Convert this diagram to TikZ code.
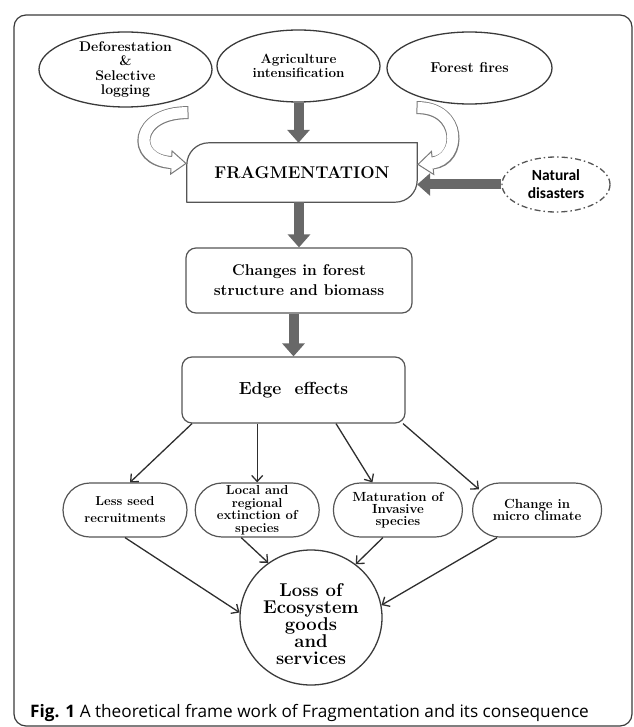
\documentclass[tikz,border=0pt]{standalone}
\usepackage{fontspec}
\newfontfamily\capfont{Open Sans}
\newfontfamily\natfont{Carlito}
\usetikzlibrary{positioning,shapes.geometric,calc,arrows.meta}
\definecolor{ovalgray}{HTML}{3A3A3A}
\definecolor{boxgray}{HTML}{555555}
\definecolor{arrowgray}{HTML}{686868}
\definecolor{hollowgray}{HTML}{7A7A7A}
\definecolor{linegray}{HTML}{2E2E2E}

\begin{document}
\begin{tikzpicture}
    [
    x=1pt, y=-1pt,
    basic/.style={draw=boxgray, line width=1.2pt},
    oval/.style={draw=ovalgray, line width=1.3pt, ellipse, inner sep=0pt},
    ovaltext/.style={font=\bfseries\fontsize{14}{14.5}\selectfont, align=center, inner sep=0pt},
    rect/.style={basic, rounded corners=10pt, align=center, inner sep=0pt},
    pill/.style={basic, rounded corners=27pt, minimum height=54pt, inner sep=0pt, align=center,
        font=\bfseries\fontsize{13}{12.5}\selectfont},
    bigarrow/.style={line width=10pt, draw=arrowgray, -{Triangle[width=22pt,length=13pt]}},
    hollow/.style={line width=13pt, draw=hollowgray, -{Triangle[width=25pt,length=16pt,line width=1pt,fill=white]}},
    hollowin/.style={line width=11pt, draw=white, shorten <=1pt, shorten >=14pt},
    thin/.style={line width=1.3pt, draw=linegray, ->},
    >={Straight Barb[length=6pt,width=11pt]}
    ]
    \useasboundingbox (0,0) rectangle (633,727);
    % Marco
    \draw[line width=1.2pt, draw=ovalgray, rounded corners=12pt] (14,15) rectangle (632,726);

    % Causas
    \node [oval, minimum width=173pt, minimum height=75pt,
        label={[name=defo-t, ovaltext]center:Deforestation\\\&\\Selective\\logging}] (defo) at (125.5,69.5) {};
    \node [oval, minimum width=163pt, minimum height=72pt,
        label={[name=agri-t, ovaltext, font=\bfseries\fontsize{13.4}{14}\selectfont]center:Agriculture\\intensification}] (agri) at (298.5,66) {};
    \node [oval, minimum width=165pt, minimum height=72pt,
        label={[name=fire-t, ovaltext, font=\bfseries\fontsize{14.4}{15}\selectfont]center:Forest fires}] (fire) at (469.5,68) {};
    \node [ellipse, draw=boxgray, line width=1.3pt, dash pattern=on 6pt off 3pt on 1.5pt off 3pt,
        minimum width=108pt, minimum height=55pt, inner sep=0pt, align=center,
        font=\natfont\bfseries\fontsize{15.5}{18}\selectfont] (nat) at (556,184.5) {Natural\\disasters};

    % Fragmentacion
    \node [minimum width=230pt, minimum height=59pt, font=\bfseries\fontsize{17}{20}\selectfont] (frag) at (302,172.5) {FRAGMENTATION};
    \draw [basic, line cap=round, rounded corners=22pt] (frag.south west) -- (frag.north west) -- (frag.north east);
    \draw [basic, line cap=round, rounded corners=22pt] (frag.north east) -- (frag.south east) -- (frag.south west);

    % Flechas de causas
    \draw [bigarrow] (agri.south) -- (agri.south |- frag.north);
    \draw [bigarrow] (nat.west) -- (nat.west -| frag.east);
    \draw [hollow] ($(defo.south)+(63,5)$) .. controls (135,112) and (130,160) .. ($(frag.west)+(0,-9)$);
    \draw [hollowin] ($(defo.south)+(63,5)$) .. controls (135,112) and (130,160) .. ($(frag.west)+(0,-9)$);
    \draw [hollow] ($(fire.south)+(-53,3)$) .. controls (462,107) and (462,160) .. ($(frag.east)+(0,-8)$);
    \draw [hollowin] ($(fire.south)+(-53,3)$) .. controls (462,107) and (462,160) .. ($(frag.east)+(0,-8)$);

    % Cambios y efectos de borde
    \node [rect, minimum width=226pt, minimum height=65pt, font=\bfseries\fontsize{15.6}{20}\selectfont] (changes) at (299,280.5)
        {Changes in forest\\structure and biomass};
    \node [rect, minimum width=223pt, minimum height=66pt, font=\bfseries\fontsize{17.5}{20}\selectfont] (edge) at (293.5,390)
        {Edge\ \ effects};
    \draw [bigarrow] (frag.south -| changes.north) -- (changes.north);
    \draw [bigarrow] (changes.south -| edge.north) -- (edge.north);

    % Consecuencias
    \node [pill, minimum width=124pt, font=\bfseries\fontsize{13}{17}\selectfont] (pill1) at (125,510) {Less seed\\recruitments};
    \node [pill, minimum width=124pt, right=7pt of pill1] (pill2) {Local and\\regional\\extinction of\\species};
    \node [pill, minimum width=129pt, right=13pt of pill2, font=\bfseries\fontsize{13.2}{12}\selectfont] (pill3) {Maturation of\\Invasive\\species};
    \node [pill, minimum width=129pt, right=9pt of pill3, font=\bfseries\fontsize{13.2}{12}\selectfont] (pill4) {Change in\\micro climate};
    \draw [thin] ([xshift=-101.5pt]edge.south) -- ([xshift=5pt]pill1.north);
    \draw [thin] (pill2.north |- edge.south) -- (pill2.north);
    \draw [thin] ([xshift=42.5pt]edge.south) -- ([xshift=-25.5pt]pill3.north);
    \draw [thin] ([xshift=109.5pt]edge.south) -- ($(pill4.north west)+(7,7)$);

    % Perdida de servicios
    \node [oval, minimum width=142pt, minimum height=135pt,
        label={[name=loss-t, ovaltext, yshift=-7pt, font=\bfseries\fontsize{18.5}{17}\selectfont]center:Loss of\\Ecosystem\\goods\\and\\services}] (loss) at (311,617.5) {};
    \draw [thin] (pill1.south) -- (loss.176);
    \draw [thin] ([xshift=-16pt]pill2.south) -- (loss.128);
    \draw [thin] ([xshift=-15pt]pill3.south) -- (loss.50);
    \draw [thin] ([xshift=-40pt]pill4.south) -- (loss.10);

    % Leyenda
    \node [anchor=base west, inner sep=0pt, font=\capfont\fontsize{17.2}{19}\selectfont] (caption) at (30,717)
        {\textbf{Fig. 1} A theoretical frame work of Fragmentation and its consequence};
\end{tikzpicture}
\end{document}
